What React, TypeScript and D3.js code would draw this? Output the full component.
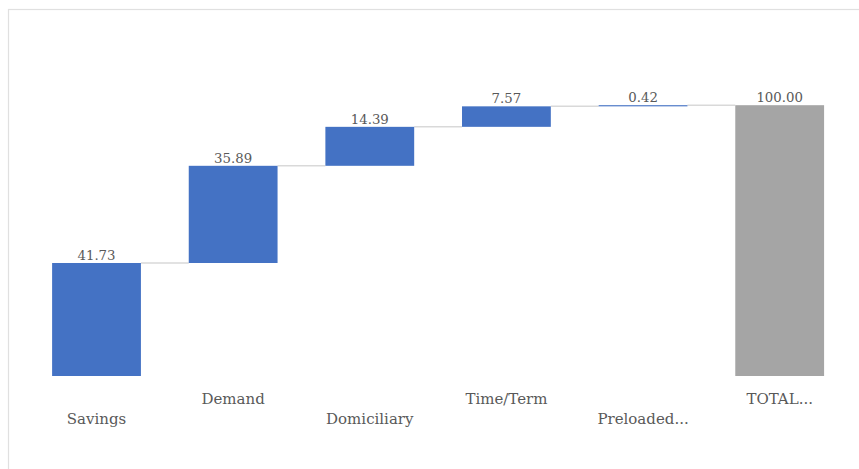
import React from "react";
import * as d3 from "d3";

// Waterfall contributions by account type, plus the closing total
const categories = ["Savings", "Demand", "Domiciliary", "Time/Term", "Preloaded...", "TOTAL..."];
const values = [41.73, 35.89, 14.39, 7.57, 0.42, 100.0];
const isTotal = [false, false, false, false, false, true];
const yDomain = [0, 100];

const W = 859;
const H = 469;
const BLUE = "#4472C4";
const GREY = "#A5A5A5";
const TEXT = "#595959";
const FONT = "'DejaVu Serif', 'Liberation Serif', serif";

export default function App() {
  const x = d3
    .scaleBand<string>()
    .domain(categories)
    .range([28.2, 848])
    .paddingInner(0.35)
    .paddingOuter(0.175);
  const y = d3.scaleLinear().domain(yDomain).range([376, 105.2]);

  // running start/end of each step
  let running = 0;
  const steps = categories.map((c, i) => {
    const v = values[i];
    let start: number, end: number;
    if (isTotal[i]) {
      start = 0;
      end = v;
      running = v;
    } else {
      start = running;
      end = running + v;
      running = end;
    }
    return { c, v, start, end, total: isTotal[i], i };
  });

  const bw = x.bandwidth();

  return (
    <svg
      width={W}
      height={H}
      style={{ position: "absolute", left: 0, top: 0, display: "block", background: "#fff" }}
    >
      <rect x={8.5} y={9.5} width={900} height={500} fill="#fff" stroke="#e0e0e0" strokeWidth={1.2} />

      {/* connectors between consecutive steps */}
      {steps.slice(0, -1).map((s, i) => {
        const next = steps[i + 1];
        const yy = y(s.end);
        return (
          <line
            key={"c" + i}
            x1={(x(s.c) ?? 0) + bw}
            x2={x(next.c) ?? 0}
            y1={yy}
            y2={yy}
            stroke="#d9d9d9"
            strokeWidth={1.5}
          />
        );
      })}

      {steps.map((s) => {
        const top = y(Math.max(s.start, s.end));
        const bottom = y(Math.min(s.start, s.end));
        return (
          <rect
            key={"b" + s.i}
            x={x(s.c)}
            y={top}
            width={bw}
            height={Math.max(bottom - top, 1)}
            fill={s.total ? GREY : BLUE}
          />
        );
      })}

      {steps.map((s) => (
        <text
          key={"v" + s.i}
          x={(x(s.c) ?? 0) + bw / 2}
          y={y(Math.max(s.start, s.end)) - 3}
          textAnchor="middle"
          fill={TEXT}
          fontFamily={FONT}
          fontSize={13.3}
        >
          {s.v.toFixed(2)}
        </text>
      ))}

      {steps.map((s) => (
        <text
          key={"l" + s.i}
          x={(x(s.c) ?? 0) + bw / 2}
          y={s.i % 2 === 0 ? 424 : 404}
          textAnchor="middle"
          fill={TEXT}
          fontFamily={FONT}
          fontSize={15}
        >
          {s.c}
        </text>
      ))}
    </svg>
  );
}
